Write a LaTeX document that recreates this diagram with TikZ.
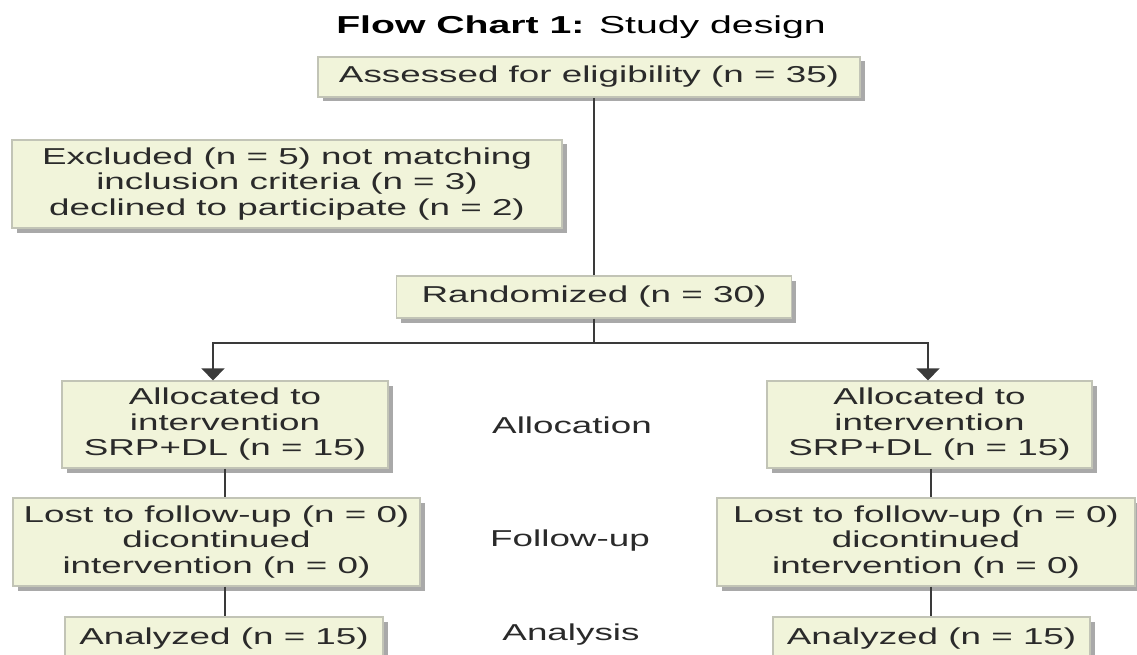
\documentclass[tikz,border=0pt]{standalone}
\usepackage{fontspec}
\setmainfont{Liberation Sans}[FakeStretch=1.6]
\usetikzlibrary{arrows.meta,shadows}
\definecolor{boxfill}{HTML}{F1F4DA}
\definecolor{boxedge}{HTML}{C2C4B6}
\definecolor{shade}{HTML}{A9A9A9}
\definecolor{ink}{HTML}{2A2A2A}
\definecolor{wire}{HTML}{3A3A3A}
\begin{document}
\begin{tikzpicture}[x=1pt,y=-1pt,
  box/.style={draw=boxedge, line width=1.2pt, fill=boxfill, inner sep=0pt,
    align=center, text=ink, font=\fontsize{23}{25.5}\selectfont,
    general shadow={fill=shade, shadow xshift=4.5pt, shadow yshift=-4.5pt}},
  stage/.style={text=ink, font=\fontsize{23}{25.5}\selectfont, inner sep=0pt},
  wireline/.style={draw=wire, line width=1.8pt},
  arrowline/.style={wireline, -{Triangle[width=23pt,length=12pt]}}]
\useasboundingbox (0,0) rectangle (1137,655);

\node[text=black, font=\fontsize{24.5}{28}\selectfont, inner sep=0pt] (title) at (581,27) {\textbf{Flow Chart 1:} Study design};

\node[box, minimum width=542pt, minimum height=40pt] (assess) at (589,77) {Assessed for eligibility (n = 35)};
\node[box, minimum width=550pt, minimum height=88pt] (excl) at (287,184) {Excluded (n = 5) not matching\\inclusion criteria (n = 3)\\declined to participate (n = 2)};
\node[box, minimum width=395pt, minimum height=42pt] (rand) at (594,297) {Randomized (n = 30)};

\node[box, minimum width=326pt, minimum height=87pt] (allocL) at (225,424.5) {Allocated to\\intervention\\SRP+DL (n = 15)};
\node[box, minimum width=325pt, minimum height=87pt] (allocR) at (929.5,424.5) {Allocated to\\intervention\\SRP+DL (n = 15)};

\node[box, minimum width=407pt, minimum height=88pt] (lostL) at (216.5,542) {Lost to follow-up (n = 0)\\dicontinued\\intervention (n = 0)};
\node[box, minimum width=418pt, minimum height=88pt] (lostR) at (926,542) {Lost to follow-up (n = 0)\\dicontinued\\intervention (n = 0)};

\node[box, minimum width=318pt, minimum height=43pt] (anaL) at (224,638.5) {Analyzed (n = 15)};
\node[box, minimum width=317pt, minimum height=43pt] (anaR) at (931.5,638.5) {Analyzed (n = 15)};

\node[stage] (allocation) at (572,425) {Allocation};
\node[stage] (followup) at (570,541) {Follow-up};
\node[stage] (analysis) at (571,635) {Analysis};

\coordinate (split) at (594,343);
\draw[wireline] (rand.north) -- (rand.north |- assess.south);
\draw[wireline] (rand.south) -- (split);
\draw[arrowline] (split) -| ([xshift=-12pt]allocL.north);
\draw[arrowline] (split) -| ([xshift=-1.5pt]allocR.north);

\draw[wireline] (allocL.south) -- (allocL.south |- lostL.north);
\draw[wireline] (allocL.south |- lostL.south) -- (allocL.south |- anaL.north);
\draw[wireline] ([xshift=1.5pt]allocR.south) -- ([xshift=1.5pt]allocR.south |- lostR.north);
\draw[wireline] ([xshift=1.5pt]allocR.south |- lostR.south) -- ([xshift=1.5pt]allocR.south |- anaR.north);
\end{tikzpicture}
\end{document}
